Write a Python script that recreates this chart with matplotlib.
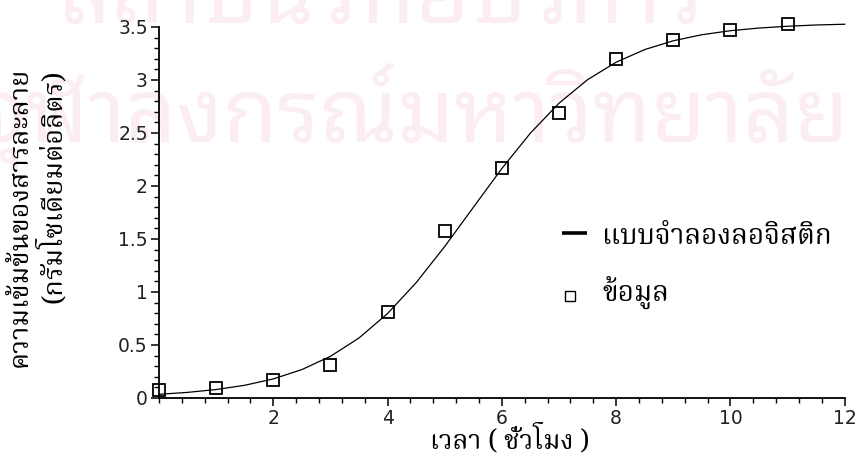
import matplotlib
matplotlib.use("Agg")
import matplotlib.pyplot as plt
from matplotlib.ticker import MultipleLocator, FixedLocator

# observed data (hours, concentration)
hours = [0, 1, 2, 3, 4, 5, 6, 7, 8, 9, 10, 11]
conc = [0.075, 0.09, 0.17, 0.31, 0.81, 1.58, 2.17, 2.69, 3.20, 3.38, 3.47, 3.53]

# logistic model curve, every half hour
curve_t = [0, 0.5, 1, 1.5, 2, 2.5, 3, 3.5, 4, 4.5, 5, 5.5, 6, 6.5, 7, 7.5, 8,
           8.5, 9, 9.5, 10, 10.5, 11, 11.5, 12]
curve_y = [0.035, 0.053, 0.080, 0.120, 0.180, 0.268, 0.393, 0.566, 0.797, 1.088,
           1.429, 1.798, 2.165, 2.499, 2.781, 3.003, 3.168, 3.287, 3.370, 3.427,
           3.465, 3.490, 3.507, 3.519, 3.526]

xticks = [2, 4, 6, 8, 10, 12]
yticks = [0, 0.5, 1, 1.5, 2, 2.5, 3, 3.5]
ytick_labels = ["0", "0.5", "1", "1.5", "2", "2.5", "3", "3.5"]

thai = ["Noto Serif Thai", "DejaVu Sans"]
wm = ["Noto Sans Thai Looped", "DejaVu Sans"]

fig = plt.figure(figsize=(8.57, 4.59), dpi=100)

# faint watermark behind the chart
fig.text(0.07, 1.0, "สถาบันวิทยบริการ", family=wm, fontsize=64,
         color="#fbedf3", ha="left", va="center", zorder=-5)
fig.text(0.99, 0.745, "จุฬาลงกรณ์มหาวิทยาลัย", family=wm, fontsize=64,
         color="#fbedf3", ha="right", va="center", zorder=-5)

ax = fig.add_axes([0.1855, 0.1329, 0.8002, 0.8083])
ax.patch.set_visible(False)
ax.set_zorder(2)

ax.plot(curve_t, curve_y, color="black", lw=0.9, clip_on=False)
ax.plot(hours, conc, ls="none", marker="s", ms=8, mfc="none", mec="black",
        mew=1.3, clip_on=False)

ax.set_xlim(0, 12)
ax.set_ylim(0, 3.5)
for s in ["top", "right"]:
    ax.spines[s].set_visible(False)
ax.spines["left"].set_linewidth(1.3)
ax.spines["bottom"].set_linewidth(1.3)

ax.xaxis.set_major_locator(FixedLocator(xticks))
ax.xaxis.set_minor_locator(MultipleLocator(0.4))
ax.yaxis.set_major_locator(FixedLocator(yticks))
ax.yaxis.set_minor_locator(MultipleLocator(0.1))
ax.set_yticklabels(ytick_labels)
ax.tick_params(which="major", length=6, width=1.1, labelsize=13.5,
               labelcolor="#222222", pad=2)
ax.tick_params(which="minor", length=3.5, width=1.0)

fig.text(0.595, 0.04, "เวลา ( ชั่วโมง )", family=thai, fontsize=19,
         ha="center", va="center")
fig.text(0.023, 0.527, "ความเข้มข้นของสารละลาย", family=thai, fontsize=19.5,
         rotation=90, ha="center", va="center")
fig.text(0.061, 0.595, "(กรัมโซเดียมต่อลิตร)", family=thai, fontsize=19.5,
         rotation=90, ha="center", va="center")

# legend drawn by hand like in the original
ax.plot([7.27], [1.56], marker="_", ms=18, mew=2.6, color="black")
ax.text(7.76, 1.52, "แบบจำลองลอจิสติก", family=thai, fontsize=20,
        va="center", ha="left")
ax.plot([7.2], [0.96], marker="s", ms=7.5, mfc="none", mec="black", mew=1.0)
ax.text(7.76, 1.0, "ข้อมูล", family=thai, fontsize=20, va="center", ha="left")

fig.savefig("out.png", dpi=100)
